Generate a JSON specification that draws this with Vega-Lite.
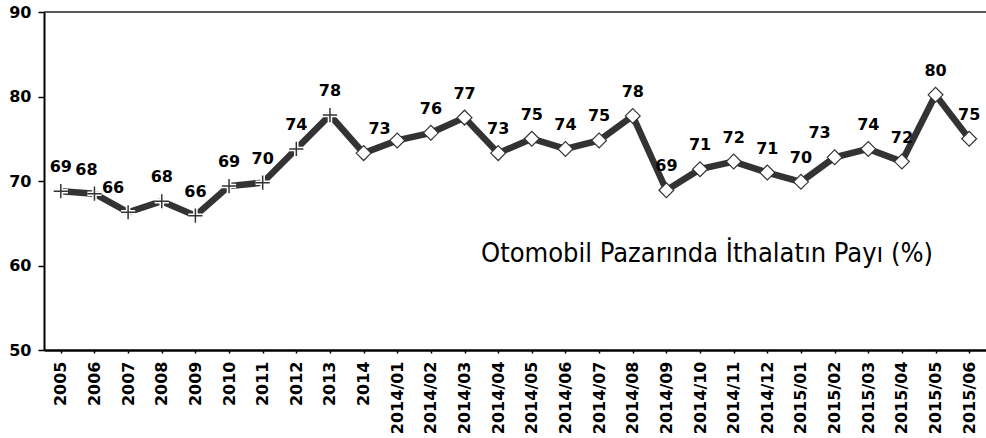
{
  "$schema": "https://vega.github.io/schema/vega-lite/v6.json",
  "width": 942,
  "height": 338,
  "autosize": {"type": "none"},
  "padding": {"left": 44, "top": 12, "right": 0, "bottom": 88},
  "background": "white",
  "config": {
    "view": {"stroke": null},
    "font": "DejaVu Sans"
  },
  "datasets": {
    "series": [
      {"period": "2005", "value": 68.8, "label": "69", "kind": "annual"},
      {"period": "2006", "value": 68.5, "label": "68", "kind": "annual"},
      {"period": "2007", "value": 66.3, "label": "66", "kind": "annual"},
      {"period": "2008", "value": 67.6, "label": "68", "kind": "annual"},
      {"period": "2009", "value": 65.9, "label": "66", "kind": "annual"},
      {"period": "2010", "value": 69.4, "label": "69", "kind": "annual"},
      {"period": "2011", "value": 69.8, "label": "70", "kind": "annual"},
      {"period": "2012", "value": 73.8, "label": "74", "kind": "annual"},
      {"period": "2013", "value": 77.8, "label": "78", "kind": "annual"},
      {"period": "2014", "value": 73.3, "label": "73", "kind": "monthly"},
      {"period": "2014/01", "value": 74.8, "label": null, "kind": "monthly"},
      {"period": "2014/02", "value": 75.7, "label": "76", "kind": "monthly"},
      {"period": "2014/03", "value": 77.5, "label": "77", "kind": "monthly"},
      {"period": "2014/04", "value": 73.3, "label": "73", "kind": "monthly"},
      {"period": "2014/05", "value": 75.0, "label": "75", "kind": "monthly"},
      {"period": "2014/06", "value": 73.8, "label": "74", "kind": "monthly"},
      {"period": "2014/07", "value": 74.8, "label": "75", "kind": "monthly"},
      {"period": "2014/08", "value": 77.7, "label": "78", "kind": "monthly"},
      {"period": "2014/09", "value": 68.9, "label": "69", "kind": "monthly"},
      {"period": "2014/10", "value": 71.4, "label": "71", "kind": "monthly"},
      {"period": "2014/11", "value": 72.3, "label": "72", "kind": "monthly"},
      {"period": "2014/12", "value": 71.0, "label": "71", "kind": "monthly"},
      {"period": "2015/01", "value": 69.9, "label": "70", "kind": "monthly"},
      {"period": "2015/02", "value": 72.8, "label": "73", "kind": "monthly"},
      {"period": "2015/03", "value": 73.8, "label": "74", "kind": "monthly"},
      {"period": "2015/04", "value": 72.3, "label": "72", "kind": "monthly"},
      {"period": "2015/05", "value": 80.2, "label": "80", "kind": "monthly"},
      {"period": "2015/06", "value": 75.0, "label": "75", "kind": "monthly"}
    ],
    "note": [
      {"period": "2014/10", "value": 60.4, "text": "Otomobil Pazarında İthalatın Payı (%)"}
    ],
    "frame": [
      {"value": 90}
    ]
  },
  "data": {"name": "series"},
  "encoding": {
    "x": {
      "field": "period",
      "type": "ordinal",
      "sort": null,
      "scale": {"paddingInner": 0, "paddingOuter": 0},
      "axis": {
        "title": null,
        "labelAngle": 270,
        "labelAlign": "right",
        "labelBaseline": "middle",
        "labelFont": "DejaVu Sans",
        "labelFontWeight": "bold",
        "labelFontSize": 16,
        "labelColor": "black",
        "labelPadding": 8,
        "bandPosition": 0,
        "tickColor": "black",
        "tickSize": 3,
        "tickWidth": 1.5,
        "domainColor": "black",
        "domainWidth": 2.5,
        "grid": false
      }
    },
    "y": {
      "field": "value",
      "type": "quantitative",
      "scale": {"domain": [50, 90], "nice": false, "zero": false},
      "axis": {
        "title": null,
        "values": [50, 60, 70, 80, 90],
        "labelFont": "DejaVu Sans",
        "labelFontWeight": "bold",
        "labelFontSize": 16,
        "labelColor": "black",
        "labelPadding": 7,
        "tickColor": "black",
        "tickSize": 6,
        "tickWidth": 1.5,
        "domainColor": "black",
        "domainWidth": 2,
        "grid": false
      }
    }
  },
  "layer": [
    {
      "data": {"name": "frame"},
      "mark": {"type": "rule", "color": "#222222", "strokeWidth": 1.5},
      "encoding": {"x": null, "y": {"field": "value", "type": "quantitative"}}
    },
    {
      "mark": {"type": "line", "color": "#333333", "strokeWidth": 6.5, "strokeJoin": "miter"}
    },
    {
      "transform": [{"filter": "datum.kind === 'annual'"}],
      "mark": {
        "type": "point",
        "shape": "M -1 0 L 1 0 M 0 -1 L 0 1",
        "filled": false,
        "stroke": "white",
        "strokeWidth": 4.5,
        "size": 200,
        "opacity": 1
      }
    },
    {
      "transform": [{"filter": "datum.kind === 'annual'"}],
      "mark": {
        "type": "point",
        "shape": "M -1 0 L 1 0 M 0 -1 L 0 1",
        "filled": false,
        "stroke": "#333333",
        "strokeWidth": 1.5,
        "size": 200,
        "opacity": 1
      }
    },
    {
      "transform": [{"filter": "datum.kind === 'monthly'"}],
      "mark": {
        "type": "point",
        "shape": "diamond",
        "filled": true,
        "fill": "white",
        "stroke": "#333333",
        "strokeWidth": 1.2,
        "size": 220,
        "opacity": 1
      }
    },
    {
      "transform": [{"filter": "datum.label !== null && indexof(['2006','2007','2014','2015/02'], datum.period) < 0"}],
      "mark": {
        "type": "text",
        "font": "DejaVu Sans",
        "fontWeight": "bold",
        "fontSize": 16,
        "color": "black",
        "baseline": "bottom",
        "dy": -16
      },
      "encoding": {"text": {"field": "label"}}
    },
    {
      "transform": [{"filter": "datum.period === '2006'"}],
      "mark": {
        "type": "text",
        "font": "DejaVu Sans",
        "fontWeight": "bold",
        "fontSize": 16,
        "color": "black",
        "baseline": "bottom",
        "dy": -16,
        "dx": -8
      },
      "encoding": {"text": {"field": "label"}}
    },
    {
      "transform": [{"filter": "datum.period === '2007' || datum.period === '2015/02'"}],
      "mark": {
        "type": "text",
        "font": "DejaVu Sans",
        "fontWeight": "bold",
        "fontSize": 16,
        "color": "black",
        "baseline": "bottom",
        "dy": -16,
        "dx": -15
      },
      "encoding": {"text": {"field": "label"}}
    },
    {
      "transform": [{"filter": "datum.period === '2014'"}],
      "mark": {
        "type": "text",
        "font": "DejaVu Sans",
        "fontWeight": "bold",
        "fontSize": 16,
        "color": "black",
        "baseline": "bottom",
        "dy": -16,
        "dx": 16
      },
      "encoding": {"text": {"field": "label"}}
    },
    {
      "data": {"name": "note"},
      "mark": {
        "type": "text",
        "font": "DejaVu Sans Condensed",
        "fontSize": 27,
        "color": "black",
        "align": "center",
        "baseline": "alphabetic",
        "dx": 7
      },
      "encoding": {"text": {"field": "text"}}
    }
  ]
}
